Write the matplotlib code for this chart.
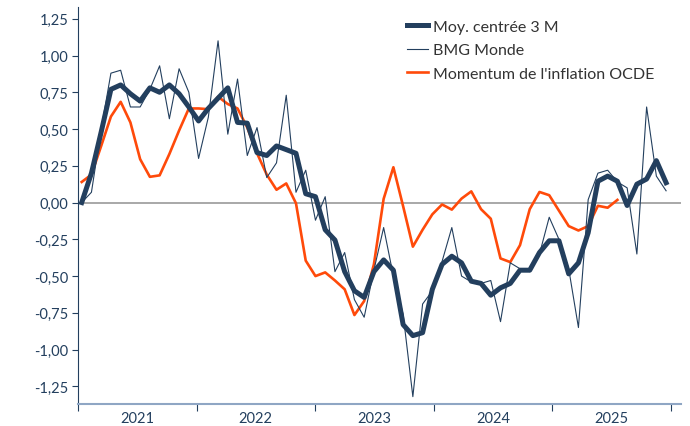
import matplotlib
matplotlib.use("Agg")
import matplotlib.pyplot as plt
import numpy as np

plt.rcParams['font.family'] = ['Lato', 'DejaVu Sans']

# monthly points, Jan 2021 onwards
moy_centree = [0.00, 0.20, 0.48, 0.77, 0.80, 0.74, 0.69, 0.78, 0.75, 0.80,
               0.74, 0.65, 0.555, 0.64, 0.71, 0.78, 0.545, 0.54, 0.34, 0.32,
               0.385, 0.36, 0.335, 0.06, 0.04, -0.185, -0.255, -0.47, -0.60, -0.645,
               -0.47, -0.39, -0.46, -0.83, -0.905, -0.885, -0.59, -0.42, -0.365, -0.41,
               -0.535, -0.55, -0.63, -0.58, -0.55, -0.46, -0.46, -0.34, -0.26, -0.26,
               -0.485, -0.41, -0.205, 0.145, 0.18, 0.145, -0.02, 0.125, 0.16, 0.285,
               0.135]
bmg_monde = [0.00, 0.07, 0.50, 0.88, 0.90, 0.65, 0.65, 0.77, 0.93, 0.57,
             0.91, 0.75, 0.30, 0.58, 1.10, 0.465, 0.84, 0.32, 0.51, 0.17,
             0.27, 0.73, 0.07, 0.22, -0.12, 0.04, -0.47, -0.34, -0.66, -0.78,
             -0.46, -0.17, -0.50, -0.76, -1.32, -0.69, -0.60, -0.40, -0.17, -0.50,
             -0.54, -0.55, -0.53, -0.81, -0.41, -0.45, -0.47, -0.35, -0.10, -0.25,
             -0.45, -0.85, 0.02, 0.20, 0.22, 0.14, 0.10, -0.35, 0.65, 0.18,
             0.08]
momentum_ocde = [0.14, 0.19, 0.385, 0.585, 0.685, 0.545, 0.295, 0.175, 0.185, 0.33,
                 0.49, 0.64, 0.64, 0.635, 0.72, 0.67, 0.64, 0.51, 0.335, 0.19,
                 0.087, 0.13, -0.005, -0.395, -0.50, -0.475, -0.53, -0.59, -0.765, -0.67,
                 -0.42, 0.025, 0.24, -0.025, -0.30, -0.185, -0.08, -0.013, -0.048, 0.027,
                 0.076, -0.045, -0.11, -0.38, -0.405, -0.29, -0.045, 0.072, 0.05, -0.055,
                 -0.16, -0.19, -0.16, -0.022, -0.035, 0.018]
years = ["2021", "2022", "2023", "2024", "2025"]
y_ticks = [-1.25, -1.0, -0.75, -0.5, -0.25, 0.0, 0.25, 0.5, 0.75, 1.0, 1.25]

navy = "#233f5e"
orange = "#ff4a0a"

fig = plt.figure(figsize=(6.9, 4.27), dpi=100)
ax = fig.add_axes([78 / 690, 22 / 427, 603 / 690, 397 / 427])

ax.axhline(0, color="#9a9a9a", lw=1.2, zorder=1)
ax.plot(range(len(moy_centree)), moy_centree, color=navy, lw=3.6,
        solid_joinstyle="round", label="Moy. centrée 3 M", zorder=3)
ax.plot(range(len(bmg_monde)), bmg_monde, color=navy, lw=0.8,
        label="BMG Monde", zorder=4)
ax.plot(range(len(momentum_ocde)), momentum_ocde, color=orange, lw=1.9,
        label="Momentum de l'inflation OCDE", zorder=2)

# year boundaries (category axis, ~12.17 pts per year)
start = -0.38
step = 12.17
ax.set_xlim(start, 61.53)
ax.set_ylim(-1.37, 1.33)
ax.set_xticks([start + step * k for k in range(len(years) + 1)])
ax.set_xticklabels([])
ax.set_xticks([start + step * (k + 0.5) for k in range(len(years))], minor=True)
ax.set_xticklabels(years, minor=True)
ax.tick_params(axis="x", which="major", length=5, color=navy, direction="out")
ax.tick_params(axis="x", which="minor", length=0, pad=5, labelsize=10.5, labelcolor=navy)

ax.set_yticks(y_ticks)
ax.set_yticklabels([f"{v:.2f}".replace(".", ",") for v in y_ticks])
ax.tick_params(axis="y", length=4, color=navy, labelsize=10.5, labelcolor=navy, pad=3)

for s in ["top", "right"]:
    ax.spines[s].set_visible(False)
ax.spines["left"].set_color(navy)
ax.spines["bottom"].set_color("#8fa6c4")
ax.spines["bottom"].set_linewidth(1.5)

ax.legend(loc="upper left", bbox_to_anchor=(393 / 690, 1 - 6 / 427),
          bbox_transform=fig.transFigure, frameon=False, fontsize=11.5,
          handlelength=1.3, handletextpad=0.3, labelspacing=0.6,
          labelcolor="#333333")

fig.savefig("out.png", dpi=100)
